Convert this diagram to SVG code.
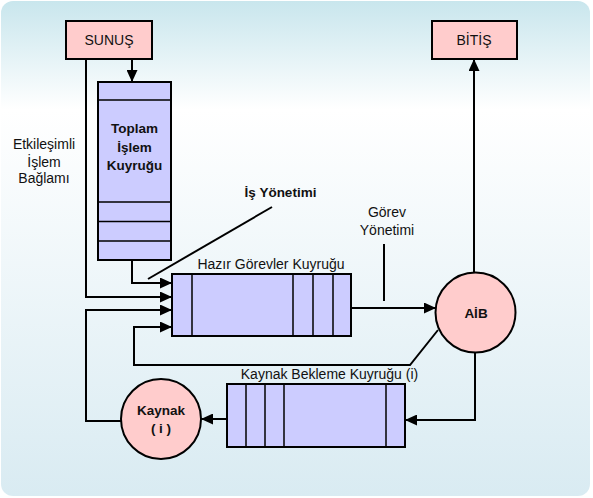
<svg xmlns="http://www.w3.org/2000/svg" width="593" height="498" viewBox="0 0 593 498">
<defs>
<linearGradient id="bg" x1="0" y1="0" x2="0" y2="1">
<stop offset="0" stop-color="#c9e6ed"/>
<stop offset="0.22" stop-color="#ffffff"/>
<stop offset="1" stop-color="#d9ebf2"/>
</linearGradient>
<marker id="ah" markerUnits="userSpaceOnUse" markerWidth="12" markerHeight="11" refX="12" refY="5.5" orient="auto">
<path d="M0,0 L12,5.5 L0,11 z" fill="#000"/>
</marker>
</defs>
<style>
.box{fill:#ffcccc;stroke:#000;stroke-width:2}
.q{fill:#ccccff;stroke:#000;stroke-width:2}
.dv{stroke:#000;stroke-width:1.5;fill:none}
.ln{stroke:#000;stroke-width:2;fill:none}
.ar{stroke:#000;stroke-width:2;fill:none;marker-end:url(#ah)}
.t{font-family:"Liberation Sans",Arial,sans-serif;font-size:14px;fill:#111;text-anchor:middle}
.b{font-family:"Liberation Sans",Arial,sans-serif;font-size:13.5px;font-weight:bold;fill:#111;text-anchor:middle}
</style>
<rect x="1" y="1" width="589" height="495" rx="12" fill="url(#bg)"/>

<g id="connectors">
<path class="ar" d="M132,59 V82"/>
<path class="ar" d="M86,59 V297 H172"/>
<path class="ar" d="M132,260 V283 H172"/>
<path class="ar" d="M121,421 H86 V310 H172"/>
<path class="ar" d="M438,330 L410,365 H134 V327 H172"/>
<path class="ar" d="M351,308 H436"/>
<path class="ar" d="M474,272 V59"/>
<path class="ar" d="M475,352 V420 H405"/>
<path class="ar" d="M227,419 H201"/>
<path class="ln" d="M148,279 L272,207"/>
<path class="ln" d="M384,244 V301"/>
</g>

<g id="sunus">
<rect class="box" x="66" y="21" width="86" height="38"/>
<text class="t" x="109" y="45">SUNUŞ</text>
</g>

<g id="bitis">
<rect class="box" x="432" y="21" width="85" height="38"/>
<text class="t" x="474" y="45">BİTİŞ</text>
</g>

<g id="toplam">
<rect class="q" x="98" y="82" width="73" height="178"/>
<path class="dv" d="M98,100 H171 M98,202 H171 M98,221.5 H171 M98,241 H171"/>
<text class="b" x="134.5" y="133">Toplam</text>
<text class="b" x="134.5" y="151.5">İşlem</text>
<text class="b" x="134.5" y="170">Kuyruğu</text>
</g>

<g id="etkilesimli">
<text class="t" x="44" y="149">Etkileşimli</text>
<text class="t" x="44" y="166.5">İşlem</text>
<text class="t" x="44" y="183">Bağlamı</text>
</g>

<g id="is-yonetimi">
<text class="b" x="280.5" y="197">İş Yönetimi</text>
</g>

<g id="gorev-yonetimi">
<text class="t" x="387" y="217">Görev</text>
<text class="t" x="387" y="235">Yönetimi</text>
</g>

<g id="hazir">
<text class="t" x="271" y="268.5">Hazır Görevler Kuyruğu</text>
<rect class="q" x="172" y="274" width="179" height="62"/>
<path class="dv" d="M192,274 V336 M293,274 V336 M313,274 V336 M333,274 V336"/>
</g>

<g id="aib">
<circle class="box" cx="475.5" cy="312.5" r="40"/>
<text class="b" x="476" y="317.5">AİB</text>
</g>

<g id="kaynak-bekleme">
<text class="t" x="329.5" y="379">Kaynak Bekleme Kuyruğu (i)</text>
<rect class="q" x="227" y="384" width="178" height="63"/>
<path class="dv" d="M246,384 V447 M265,384 V447 M284,384 V447 M386,384 V447"/>
</g>

<g id="kaynak">
<circle class="box" cx="161" cy="419" r="40"/>
<text class="b" x="161" y="415">Kaynak</text>
<text class="b" x="161" y="433">( i )</text>
</g>
</svg>
